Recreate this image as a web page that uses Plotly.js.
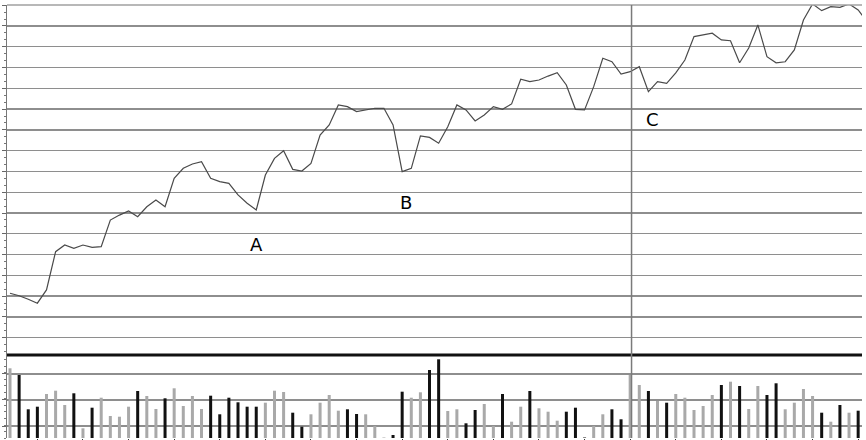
<!DOCTYPE html>
<html>
<head>
<meta charset="utf-8">
<script src="https://cdn.plot.ly/plotly-3.0.1.min.js"></script>
<style>
  html, body { margin: 0; padding: 0; background: #ffffff; }
  #chart { width: 866px; height: 440px; }
</style>
</head>
<body>
<div id="chart"></div>
<script>
// Closing prices per session (grid step = 1)
const prices = [
  12.14, 12.02, 11.85, 11.66, 12.30, 14.14, 14.46, 14.30, 14.46, 14.35,
  14.38, 15.66, 15.90, 16.10, 15.82, 16.30, 16.63, 16.30, 17.67, 18.15,
  18.36, 18.47, 17.67, 17.51, 17.43, 16.87, 16.47, 16.15, 17.83, 18.63,
  19.00, 18.10, 18.02, 18.39, 19.75, 20.24, 21.20, 21.12, 20.88, 20.96,
  21.04, 21.04, 20.24, 17.99, 18.15, 19.71, 19.64, 19.36, 20.15, 21.20,
  20.96, 20.43, 20.72, 21.12, 20.99, 21.25, 22.44, 22.32, 22.40, 22.59,
  22.75, 22.16, 20.99, 20.96, 22.08, 23.45, 23.28, 22.69, 22.80, 23.04,
  21.84, 22.32, 22.24, 22.74, 23.36, 24.49, 24.57, 24.65, 24.33, 24.29,
  23.23, 23.94, 25.05, 23.52, 23.23, 23.28, 23.85, 25.29, 26.06, 25.74,
  25.93, 25.90, 26.06, 25.77, 25.19
];

// Volume per session
const volumes = [
  69.7, 63.0, 28.7, 31.3, 44.0, 47.3, 33.0, 44.7, 9.7, 30.3,
  40.3, 22.0, 21.3, 31.3, 47.0, 42.0, 29.0, 39.7, 49.7, 32.0,
  42.0, 29.0, 42.3, 23.7, 40.3, 35.7, 31.3, 31.3, 35.3, 47.3,
  46.0, 25.3, 11.3, 23.7, 35.3, 43.0, 27.3, 28.7, 24.0, 23.7,
  12.0, 0.5, 3.0, 46.3, 40.3, 45.7, 68.0, 78.7, 27.0, 28.7,
  14.7, 28.0, 34.0, 12.0, 44.0, 16.3, 31.3, 47.0, 29.7, 26.3,
  17.3, 26.3, 30.3, 0.5, 12.0, 23.7, 28.7, 18.7, 63.0, 53.0,
  47.0, 37.0, 35.3, 44.0, 40.3, 28.0, 32.0, 43.0, 53.0, 56.3,
  52.0, 29.0, 52.0, 43.0, 54.7, 28.7, 35.3, 49.0, 42.0, 25.3,
  16.3, 33.0, 25.3, 27.3, null
];

// Session direction as shown by the bar shade: 1 = up (grey), 0 = down (black)
const upDay = [
  1, 0, 0, 0, 1, 1, 1, 0, 1, 0,
  1, 1, 1, 1, 0, 1, 1, 0, 1, 1,
  1, 1, 0, 0, 0, 0, 0, 0, 1, 1,
  1, 0, 0, 1, 1, 1, 1, 0, 0, 1,
  1, 1, 0, 0, 1, 1, 0, 0, 1, 1,
  0, 0, 1, 1, 0, 1, 1, 0, 1, 1,
  1, 0, 0, 0, 1, 1, 0, 0, 1, 1,
  0, 1, 0, 1, 1, 1, 1, 1, 0, 1,
  0, 1, 1, 0, 0, 1, 1, 1, 1, 0,
  1, 0, 1, 0, 1
];

// Labelled points (session index, price level) and marker session
const labelText = ["A", "B", "C"];
const labelSession = [27.0, 43.45, 70.45];
const labelLevel = [14.49, 16.52, 20.49];
const markerSession = 68.15;

const sessions = prices.map((_, i) => i);
const barColors = upDay.map(u => (u ? "#a9a9a9" : "#111111"));

const xRange = [-0.33, 93.42];
const yRange = [9.167, 26.01];
const vRange = [0, 83];
const split = 0.1917;

const traces = [
  {
    type: "scatter", mode: "lines",
    x: sessions, y: prices,
    xaxis: "x", yaxis: "y",
    line: { color: "#4a4a4a", width: 1.2 },
    hoverinfo: "skip", showlegend: false
  },
  {
    type: "bar",
    x: sessions, y: volumes,
    xaxis: "x", yaxis: "y2",
    width: 0.33,
    marker: { color: barColors, line: { width: 0 } },
    hoverinfo: "skip", showlegend: false
  }
];

const layout = {
  width: 866, height: 440,
  margin: { l: 7, r: 4, t: 5, b: 2, pad: 0 },
  paper_bgcolor: "#ffffff", plot_bgcolor: "#ffffff",
  showlegend: false,
  xaxis: {
    range: xRange, showgrid: false, zeroline: false,
    showticklabels: false, showline: false,
    tickmode: "array",
    tickvals: [3, 8, 13, 18, 23, 28, 33, 38, 43, 48, 53, 58, 63, 68, 73, 78, 83, 88, 93],
    ticks: "outside", ticklen: 3, tickcolor: "#333", tickwidth: 1,
    anchor: "y2", fixedrange: true
  },
  yaxis: {
    domain: [split, 1], range: yRange,
    tick0: 0, dtick: 1,
    showgrid: true, gridcolor: "#8e8e8e", gridwidth: 1.4,
    zeroline: false, showticklabels: false,
    showline: true, linecolor: "#777", linewidth: 1,
    ticks: "outside", ticklen: 4, tickcolor: "#666", tickwidth: 1,
    minor: { dtick: 1 / 3, ticks: "outside", ticklen: 2, tickcolor: "#777", showgrid: false },
    anchor: "x", fixedrange: true
  },
  yaxis3: {
    domain: [split, 1], range: yRange, overlaying: "y", side: "right",
    anchor: "x", showgrid: false, zeroline: false, showticklabels: false,
    showline: true, linecolor: "#888", linewidth: 1,
    tick0: 0, dtick: 1 / 6,
    ticks: "outside", ticklen: 3, tickcolor: "#888", tickwidth: 1,
    fixedrange: true
  },
  yaxis2: {
    domain: [0, split], range: vRange,
    tick0: 12, dtick: 26,
    showgrid: true, gridcolor: "#8e8e8e", gridwidth: 1.4,
    zeroline: false, showticklabels: false,
    showline: true, linecolor: "#777", linewidth: 1,
    ticks: "outside", ticklen: 4, tickcolor: "#666", tickwidth: 1,
    minor: { dtick: 26 / 4, ticks: "outside", ticklen: 2, tickcolor: "#777", showgrid: false },
    anchor: "x", fixedrange: true
  },
  yaxis4: {
    domain: [0, split], range: vRange, overlaying: "y2", side: "right",
    anchor: "x", showgrid: false, zeroline: false, showticklabels: false,
    showline: true, linecolor: "#888", linewidth: 1,
    tick0: 12, dtick: 26 / 8,
    ticks: "outside", ticklen: 3, tickcolor: "#888", tickwidth: 1,
    fixedrange: true
  },
  shapes: [
    { type: "line", xref: "paper", yref: "paper", x0: 0, x1: 1, y0: 1, y1: 1,
      line: { color: "#a0a0a0", width: 1.5 } },
    { type: "line", xref: "paper", yref: "paper", x0: 0, x1: 1, y0: split, y1: split,
      line: { color: "#111111", width: 3 } },
    { type: "line", xref: "x", yref: "paper", x0: markerSession, x1: markerSession, y0: 0, y1: 1,
      line: { color: "#7a7a7a", width: 1.5 } }
  ],
  annotations: labelText.map((t, i) => ({
    text: t, x: labelSession[i], y: labelLevel[i], xref: "x", yref: "y",
    showarrow: false, xanchor: "center", yanchor: "middle",
    font: { family: "DejaVu Sans, sans-serif", size: 18, color: "#000000" }
  }))
};

Plotly.newPlot("chart", traces, layout, { staticPlot: true, displayModeBar: false });
</script>
</body>
</html>
